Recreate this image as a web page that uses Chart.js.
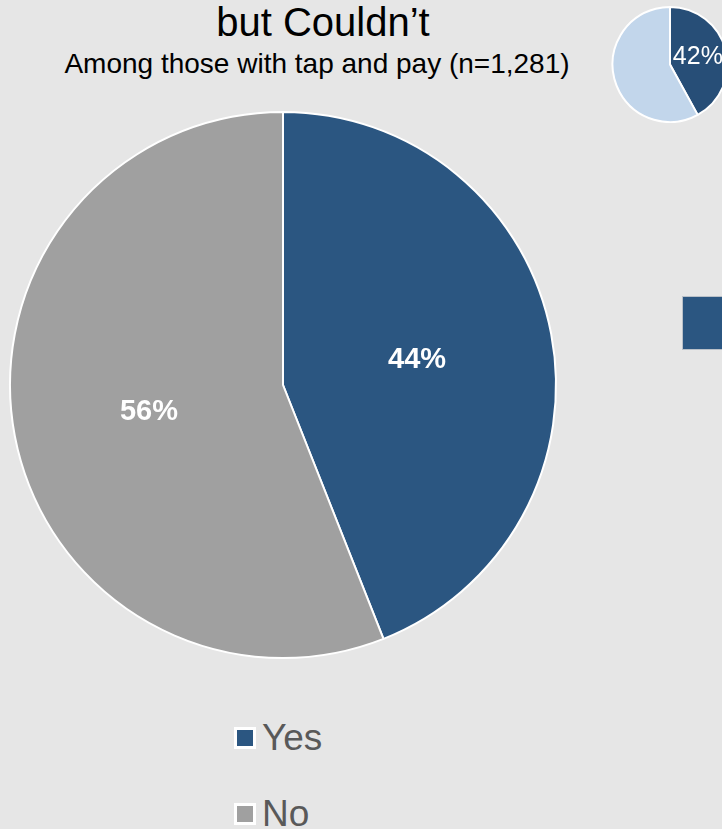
<!DOCTYPE html>
<html>
<head>
<meta charset="utf-8">
<script src="https://cdn.jsdelivr.net/npm/chart.js@4"></script>
<style>
  body {
    margin: 0;
    width: 722px;
    height: 829px;
    overflow: hidden;
    position: relative;
    background: #e6e6e6;
    font-family: "Liberation Sans", Arial, sans-serif;
  }
  .heading {
    position: absolute;
    left: 0;
    width: 646px;
    text-align: center;
    color: #000;
    white-space: nowrap;
  }
  #title { top: 2px; font-size: 40px; line-height: 40px; }
  #subtitle { top: 50px; width: 634px; font-size: 28px; line-height: 28px; }
  #mainPie { position: absolute; left: 0; top: 111px; }
  #priorPie { position: absolute; left: 611px; top: 6px; }
  #sideBar {
    position: absolute;
    left: 682px; top: 296px;
    width: 50px; height: 52px;
    background: #2b5681;
    border: 1px solid #b9c0c8;
  }
  .legend-item {
    position: absolute;
    left: 234px;
    height: 37px;
    display: flex;
    align-items: center;
    font-size: 37px;
    line-height: 37px;
    color: #595959;
  }
  .legend-swatch {
    width: 16px; height: 16px;
    border: 3px solid #fff;
    margin-right: 6px;
  }
</style>
</head>
<body>
<div id="title" class="heading">but Couldn’t</div>
<div id="subtitle" class="heading">Among those with tap and pay (n=1,281)</div>
<canvas id="mainPie" width="566" height="548"></canvas>
<canvas id="priorPie" width="118" height="117"></canvas>
<div id="sideBar"></div>
<div id="legend"></div>

<script>
// Share of respondents (%)
const LABELS = ['Yes', 'No'];
const SHARE = [44, 56];
const COLORS = ['#2b5681', '#a0a0a0'];

// Earlier wave, shown small in the corner
const PRIOR_LABELS = ['Yes', 'No'];
const PRIOR_SHARE = [42, 58];
const PRIOR_COLORS = ['#274e77', '#c2d6eb'];

// Writes "NN%" at the middle of each slice
const sliceLabels = {
    id: 'sliceLabels',
    afterDatasetsDraw(chart, args, opts) {
        const ctx = chart.ctx;
        const meta = chart.getDatasetMeta(0);
        const values = chart.data.datasets[0].data;
        ctx.save();
        ctx.fillStyle = opts.color || '#fff';
        ctx.font = opts.font;
        ctx.textAlign = 'center';
        ctx.textBaseline = 'middle';
        meta.data.forEach((arc, i) => {
            if (opts.skip && opts.skip.includes(i)) return;
            const p = arc.tooltipPosition();
            ctx.fillText(values[i] + '%', p.x, p.y + (opts.dy || 0));
        });
        ctx.restore();
    }
};

function pieConfig(labels, data, colors, labelOpts) {
    return {
        type: 'pie',
        data: {
            labels: labels,
            datasets: [{
                data: data,
                backgroundColor: colors,
                borderColor: '#ffffff',
                borderWidth: 2,
                hoverOffset: 0
            }]
        },
        options: {
            responsive: false,
            animation: false,
            layout: { padding: 0 },
            plugins: {
                legend: { display: false },
                tooltip: { enabled: false },
                sliceLabels: labelOpts
            }
        },
        plugins: [sliceLabels]
    };
}

new Chart(document.getElementById('mainPie'), pieConfig(LABELS, SHARE, COLORS, {
    font: 'bold 29px "Liberation Sans", Arial, sans-serif',
    color: '#ffffff',
    dy: 1
}));

new Chart(document.getElementById('priorPie'), pieConfig(PRIOR_LABELS, PRIOR_SHARE, PRIOR_COLORS, {
    font: '25px "Liberation Sans", Arial, sans-serif',
    color: '#ffffff',
    skip: [1]
}));

// Vertical legend under the main pie
const legendEl = document.getElementById('legend');
let legHtml = '';
LABELS.forEach((label, i) => {
    legHtml += `
        <div class="legend-item" style="top:${719 + i * 76}px">
            <span class="legend-swatch" style="background:${COLORS[i]}"></span>
            <span>${label}</span>
        </div>`;
});
legendEl.innerHTML = legHtml;
</script>
</body>
</html>
